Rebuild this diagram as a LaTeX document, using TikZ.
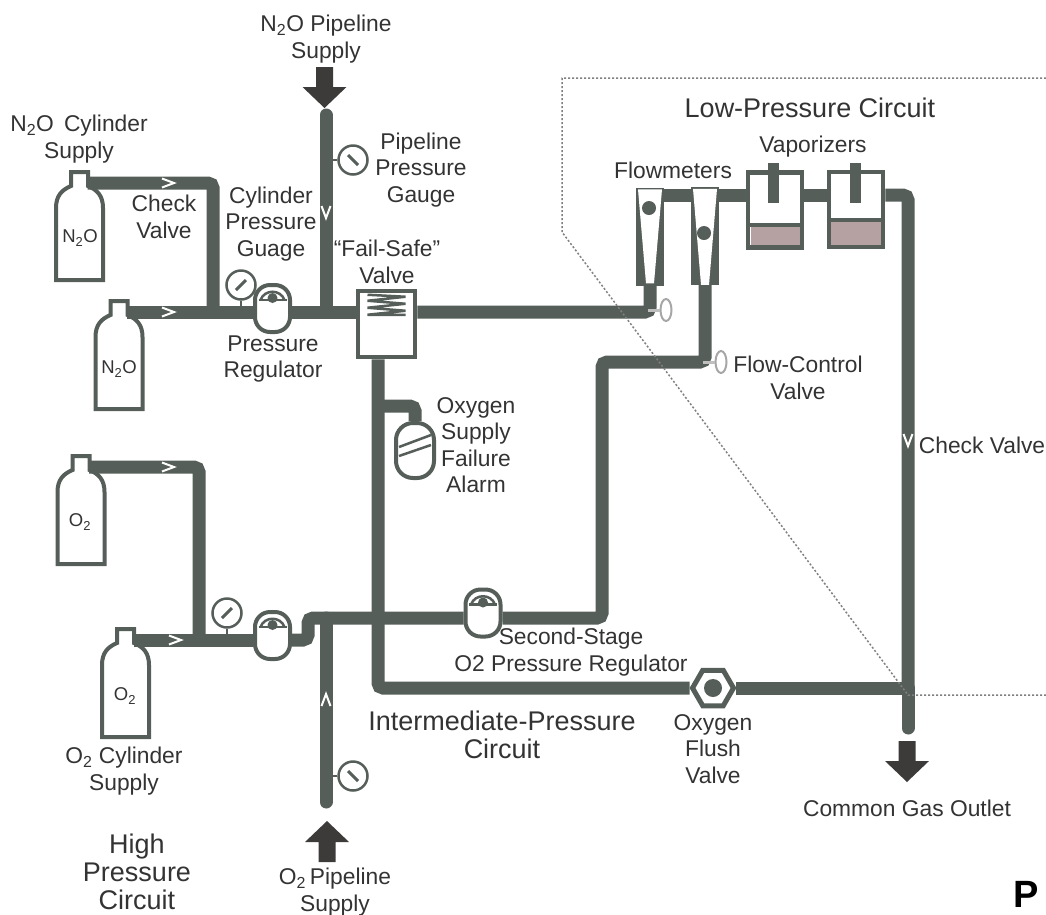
\documentclass[tikz,border=0pt]{standalone}
\usepackage{fontspec}
\setmainfont{Liberation Sans}
\usetikzlibrary{shapes.geometric,positioning}
\definecolor{pipecol}{HTML}{555E58}
\definecolor{inkcol}{HTML}{333333}
\definecolor{arrowcol}{HTML}{3D3A3A}
\definecolor{liquidcol}{HTML}{B5A0A2}
\begin{document}
\begin{tikzpicture}[
  x=1pt, y=-1pt,
  label/.style={align=center, inner sep=0pt, text=inkcol, font=\fontsize{22.8}{26.5}\selectfont},
  biglabel/.style={label, font=\fontsize{27}{28}\selectfont},
  gaslabel/.style={label, font=\fontsize{18.5}{20}\selectfont},
  pipe/.style={draw=pipecol, line width=13pt, rounded corners=5pt},
  capped/.style={draw=pipecol, line width=13pt, line cap=round},
  detail/.style={draw=pipecol, line width=2.5pt},
  gauge/.style={circle, draw=pipecol, fill=white, line width=2.5pt, minimum size=29pt, inner sep=0pt},
  regulator/.style={rectangle, draw=pipecol, fill=white, line width=4pt, rounded corners=15pt, minimum width=35pt, minimum height=47pt},
  meter/.style={rectangle, fill=pipecol, minimum width=28pt, minimum height=98pt, inner sep=0pt},
  vaporizer/.style={rectangle, draw=pipecol, fill=white, line width=4.5pt, minimum width=54pt, minimum height=75pt},
  knob/.style={ellipse, draw=gray!70, fill=white, line width=2pt, minimum width=11pt, minimum height=22pt, inner sep=0pt},
  bottle/.pic={
    \draw[pipecol, fill=white, line width=4pt] (-8.5,0) -- (8.5,0) -- (8.5,14) .. controls (18,18) and (23.5,24) .. (23.5,36)
      -- (23.5,108) -- (-23.5,108) -- (-23.5,36) .. controls (-23.5,24) and (-18,18) .. (-8.5,14) -- cycle;
    \coordinate (-out) at (8,11);
  },
  blockdown/.pic={
    \fill[arrowcol] (-8.5,0) -- (8.5,0) -- (8.5,20) -- (22,20) -- (0,41) -- (-22,20) -- (-8.5,20) -- cycle;
  },
  chevron/.pic={
    \draw[white, line width=2pt] (-6,-4.5) -- (6,0) -- (-6,4.5);
  }
]
\useasboundingbox (0,0) rectangle (1046,914);

\pic (cyla) at (79.5,172) {bottle};
\pic (cylb) at (119,301) {bottle};
\pic (cylc) at (81,456) {bottle};
\pic (cyld) at (125.5,629) {bottle};
\node[gaslabel] (gasa) at (80,238) {N\textsubscript{2}O};
\node[gaslabel] (gasb) at (119,369) {N\textsubscript{2}O};
\node[gaslabel] (gasc) at (80,522) {O\textsubscript{2}};
\node[gaslabel] (gasd) at (125,696) {O\textsubscript{2}};

\node[regulator] (regn) at (272.5,308.5) {};
\node[regulator] (rego) at (272.5,635.5) {};
\node[regulator] (regs) at (483,613) {};
\foreach \reg in {regn,rego,regs} {
  \begin{scope}[shift={(\reg.north)}]
    \draw[detail] (-12,17) .. controls (-8,6) and (8,6) .. (12,17);
    \draw[detail] (-14,17) -- (14,17);
    \fill[pipecol] (0,15) circle (5);
  \end{scope}
}

\node[rectangle, draw=pipecol, fill=white, line width=4.5pt, minimum width=57pt, minimum height=66pt] (valve) at (386.5,324) {};
\draw[detail] (valve.north) ++(-19,6) -- ++(38,2) -- ++(-38,4) -- ++(38,3) -- ++(-38,4) -- ++(38,3) -- ++(-38,4) -- ++(38,0);

\node[meter] (fma) at (650,236.5) {};
\node[meter] (fmb) at (705,236) {};
\fill[white] (fma.north) ++(-12,2) -- ++(24,0) -- ++(-8,94) -- ++(-8,0) -- cycle;
\fill[white] (fmb.north) ++(-12,2) -- ++(24,0) -- ++(-8,96) -- ++(-8,0) -- cycle;
\fill[pipecol] (649,208) circle (7);
\fill[pipecol] (704,233) circle (7);

\node[vaporizer] (vapa) at (775,210) {};
\node[vaporizer] (vapb) at (856,209.5) {};
\fill[liquidcol] (750.5,225) rectangle (799.5,244.5);
\fill[liquidcol] (831,220) rectangle (881,244.5);
\draw[pipecol, line width=4.5pt] (748,225) -- (802,225);
\draw[pipecol, line width=4.5pt] (829,220) -- (883,220);
\draw[pipecol, line width=11pt] (773,163) -- (773,203);
\draw[pipecol, line width=11pt] (855,163) -- (855,203);

\node[rectangle, draw=pipecol, fill=white, line width=4pt, rounded corners=17pt, minimum width=38pt, minimum height=55pt] (alarm) at (415,450.5) {};
\draw[detail] (399,447) -- (431,435);
\draw[detail] (399,456) -- (431,445);

\node[regular polygon, regular polygon sides=6, draw=pipecol, fill=white, line width=5pt, minimum size=41pt, inner sep=0pt] (flush) at (713,688) {};
\fill[pipecol] (flush.center) circle (9);

\node[gauge] (gaugep) at (353,160) {};
\node[gauge] (gaugec) at (241,285) {};
\node[gauge] (gaugeo) at (227,613) {};
\node[gauge] (gaugeq) at (353,776) {};
\foreach \g/\a in {gaugep/1,gaugeq/1,gaugec/-1,gaugeo/-1} {
  \draw[detail, line width=3pt] (\g.center) ++(-5*\a,-5) -- ++(10*\a,10);
}

\coordinate (teen) at (326,312);
\coordinate (jctn) at (213,312);
\coordinate (pipen) at (326,115);
\coordinate (topl) at (0,195);
\coordinate (lowl) at (378,688);
\coordinate (alarmt) at (378,406);
\coordinate (jcto) at (199,640);
\coordinate (stepo) at (308,640);
\coordinate (stept) at (308,618);
\coordinate (teeo) at (326,618);
\coordinate (pipeo) at (326,802);
\coordinate (benda) at (602,618);
\coordinate (bendb) at (602,362);
\coordinate (merge) at (908,688);
\coordinate (outlet) at (908,728);

\draw[pipe] (cyla-out) -| (jctn);
\draw[pipe] (cylb-out) -- (regn.west |- teen);
\draw[pipe] (regn.east |- teen) -- (valve.west |- teen);
\draw[capped] (pipen) -- (teen);
\draw[pipe] (valve.east |- teen) -| (fma.south);
\draw[pipe] (fma.east |- topl) -- (fmb.west |- topl);
\draw[pipe] (fmb.east |- topl) -- (vapa.west |- topl);
\draw[pipe] (vapa.east |- topl) -- (vapb.west |- topl);
\draw[pipe] (vapb.east |- topl) -| (merge);
\draw[capped] (merge) -- (outlet);
\draw[pipe] (valve.south -| lowl) -- (lowl) -- (flush.west);
\draw[pipe] (flush.east) -- (merge);
\draw[pipe] (alarmt) -| (alarm.north);
\draw[pipe] (cylc-out) -| (jcto);
\draw[pipe] (cyld-out) -- (rego.west |- jcto);
\draw[pipe] (rego.east |- jcto) -- (stepo) -- (stept) -- (regs.west |- stept);
\draw[capped] (teeo) -- (pipeo);
\draw[pipe] (regs.east |- stept) -- (benda) -- (bendb) -- (bendb -| fmb.south) -- (fmb.south);

\draw[detail] (gaugep.west) -- (gaugep.west -| pipen);
\draw[detail] (gaugeq.west) -- (gaugeq.west -| pipeo);
\draw[detail] (gaugec.south) -- (gaugec.south |- teen);
\draw[detail] (gaugeo.south) -- (gaugeo.south |- jcto);

\node[knob] (knoba) at (666,310) {};
\node[knob] (knobb) at (721,362) {};
\draw[gray!50, line width=3pt] (knoba.west) -- ++(-12,0);
\draw[gray!50, line width=3pt] (knobb.west) -- ++(-12,0);

\foreach \x/\y/\a in {168/183/0,168/312/0,168/467/0,175/640/0,326/212/-90,326/700/90,908/440/-90} {
  \pic[rotate=\a] at (\x,\y) {chevron};
}

\pic at (324.5,67) {blockdown};
\pic[yscale=-1] at (327,862) {blockdown};
\pic at (907,741) {blockdown};

\draw[gray, line width=1.5pt, dash pattern=on 2pt off 2pt] (1046,78) -- (562,78) -- (562,232) -- (908,695) -- (1046,695);

\node[label] (npipe) at (326,39) {N\textsubscript{2}O Pipeline\\Supply};
\node[label] (ncyl) at (79,139) {N\textsubscript{2}O\, Cylinder\\Supply};
\node[label] (pgauge) at (421,170) {Pipeline\\Pressure\\Gauge};
\node[label] (ncheck) at (164,217) {Check\\Valve};
\node[label] (cgauge) at (271,224) {Cylinder\\Pressure\\Guage};
\node[label] (failsafe) at (387,262) {“Fail-Safe”\\Valve};
\node[label] (preg) at (273,359) {Pressure\\Regulator};
\node[biglabel] (lowp) at (810,108) {Low-Pressure Circuit};
\node[label] (vaps) at (813,147) {Vaporizers};
\node[label] (flows) at (673,170) {Flowmeters};
\node[label] (fcontrol) at (798,378) {Flow-Control\\Valve};
\node[label] (oxalarm) at (476,445) {Oxygen\\Supply\\Failure\\Alarm};
\node[label] (lcheck) at (982,445) {Check Valve};
\node[label] (second) at (571,652) {Second-Stage\\O2 Pressure Regulator};
\node[biglabel] (interp) at (502,735) {Intermediate-Pressure\\Circuit};
\node[label] (oxflush) at (713,749) {Oxygen\\Flush\\Valve};
\node[label] (ocyl) at (124,771) {O\textsubscript{2} Cylinder\\Supply};
\node[label] (outletl) at (907,808) {Common Gas Outlet};
\node[biglabel] (highp) at (137,872) {High\\Pressure\\Circuit};
\node[label] (opipe) at (335,892) {O\textsubscript{2}\,Pipeline\\Supply};
\node[inner sep=0pt, text=black, font=\fontsize{38}{38}\selectfont\bfseries] (mark) at (1026,894) {P};

\end{tikzpicture}
\end{document}
